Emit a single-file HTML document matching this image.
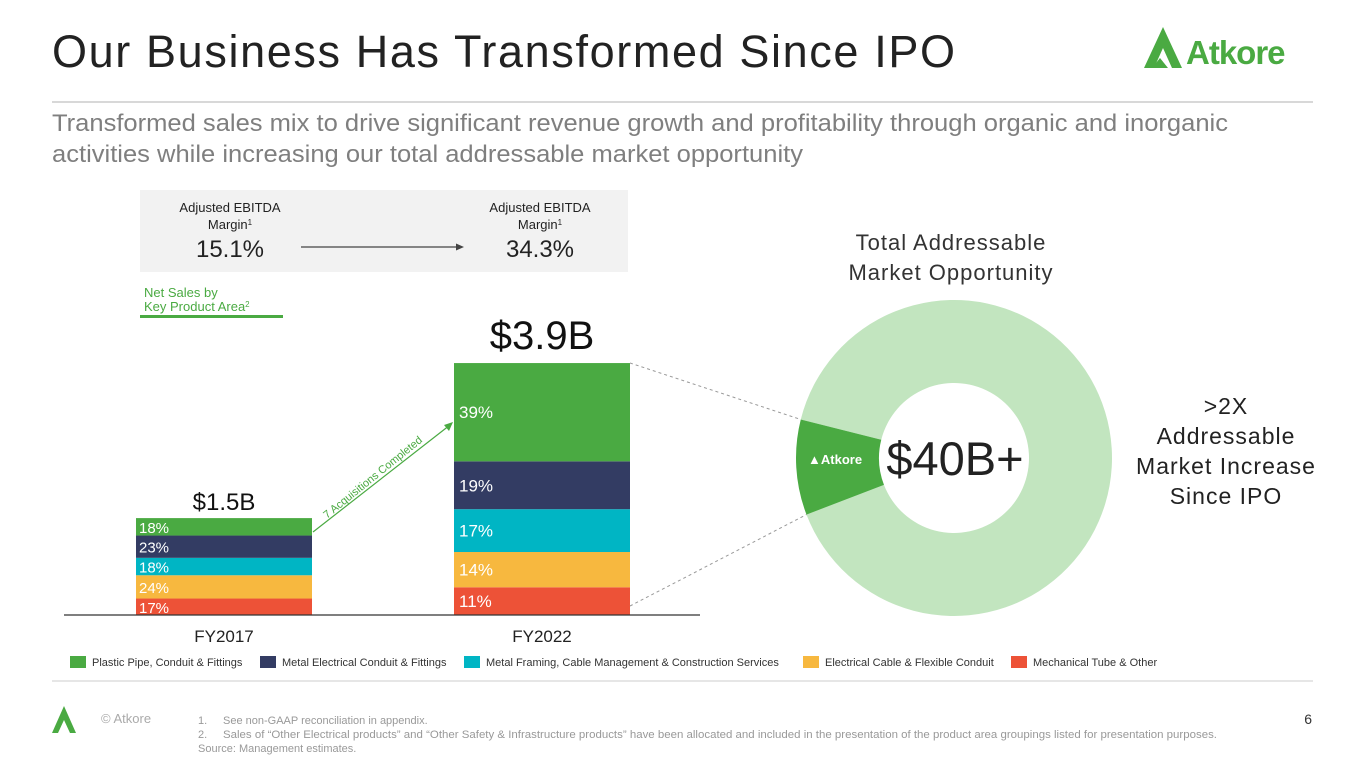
<!DOCTYPE html>
<html><head><meta charset="utf-8">
<style>
html,body{margin:0;padding:0;background:#fff;}
body{width:1365px;height:768px;overflow:hidden;font-family:"Liberation Sans",sans-serif;}
svg text{font-family:"Liberation Sans",sans-serif;}
</style></head>
<body>
<svg id="s" width="1365" height="768" viewBox="0 0 1365 768">
<text x="52" y="67" font-size="45" fill="#222" textLength="903" lengthAdjust="spacing">Our Business Has Transformed Since IPO</text>
<g>
<polygon points="1144,68 1163,27 1182,68 1172,68 1163,48 1154,68" fill="#4aaa42"/>
<polygon points="1152,68 1160,58 1168,68" fill="#4aaa42"/>
<text x="1186" y="64" font-size="33" font-weight="bold" fill="#4aaa42" letter-spacing="-1">Atkore</text>
</g>
<line x1="52" y1="102" x2="1313" y2="102" stroke="#ccc" stroke-width="1.5"/>
<text x="52" y="131" font-size="24" fill="#7f7f7f" textLength="1176" lengthAdjust="spacingAndGlyphs">Transformed sales mix to drive significant revenue growth and profitability through organic and inorganic</text>
<text x="52" y="162" font-size="24" fill="#7f7f7f" textLength="751" lengthAdjust="spacingAndGlyphs">activities while increasing our total addressable market opportunity</text>

<g>
<rect x="140" y="190" width="488" height="82" fill="#f2f2f2"/>
<text x="230" y="212" font-size="13" text-anchor="middle" fill="#222">Adjusted EBITDA</text>
<text x="230" y="229" font-size="13" text-anchor="middle" fill="#222">Margin<tspan font-size="8" dy="-4">1</tspan></text>
<text x="230" y="257" font-size="24" text-anchor="middle" fill="#222">15.1%</text>
<text x="540" y="212" font-size="13" text-anchor="middle" fill="#222">Adjusted EBITDA</text>
<text x="540" y="229" font-size="13" text-anchor="middle" fill="#222">Margin<tspan font-size="8" dy="-4">1</tspan></text>
<text x="540" y="257" font-size="24" text-anchor="middle" fill="#222">34.3%</text>
<line x1="301" y1="247" x2="458" y2="247" stroke="#444" stroke-width="1.3"/>
<polygon points="464,247 456,243.5 456,250.5" fill="#444"/>
</g>
<g>
<text x="144" y="297" font-size="13" fill="#4aaa42">Net Sales by</text>
<text x="144" y="311" font-size="13" fill="#4aaa42">Key Product Area<tspan font-size="8" dy="-4">2</tspan></text>
<rect x="140" y="315" width="143" height="3" fill="#4aaa42"/>
</g>
<g id="bars"></g>
<g id="donut"></g>
<g id="legend"></g>

<line x1="52" y1="681" x2="1313" y2="681" stroke="#ccc" stroke-width="1"/>
<g>
<polygon points="52,733 64,706 76,733 70,733 64,720 58,733" fill="#4aaa42"/>
</g>
<text x="101" y="723" font-size="13" fill="#aaa">© Atkore</text>
<g font-size="11" fill="#999">
<text x="198" y="724">1.</text><text x="223" y="724">See non-GAAP reconciliation in appendix.</text>
<text x="198" y="738">2.</text><text x="223" y="738" textLength="994" lengthAdjust="spacingAndGlyphs">Sales of “Other Electrical products” and “Other Safety &amp; Infrastructure products” have been allocated and included in the presentation of the product area groupings listed for presentation purposes.</text>
<text x="198" y="752">Source: Management estimates.</text>
</g>
<text x="1312" y="724" font-size="14" fill="#333" text-anchor="end">6</text>
</svg>
<script>
const years = ["FY2017","FY2022"];
const totals = [1.5, 3.9];
const totalLabels = ["$1.5B","$3.9B"];
const seriesNames = ["Plastic Pipe, Conduit & Fittings","Metal Electrical Conduit & Fittings","Metal Framing, Cable Management & Construction Services","Electrical Cable & Flexible Conduit","Mechanical Tube & Other"];
const colors = ["#4aaa42","#333c63","#00b5c4","#f7b83f","#ed5237"];
const shares2017 = [18,23,18,24,17];
const shares2022 = [39,19,17,14,11];
const tamTotal = 40;
const atkoreShare = 3.9;

const NS="http://www.w3.org/2000/svg";
function mk(tag,attrs,parent,txt){const e=document.createElementNS(NS,tag);for(const k in attrs)e.setAttribute(k,attrs[k]);if(txt!==undefined)e.textContent=txt;parent.appendChild(e);return e;}
const bars=document.getElementById('bars');
const base=615, pxPerB=64.6;
const y=v=>base-v*pxPerB;
const barX=[136,454], barW=176;
const shares=[shares2017,shares2022];
years.forEach((yr,i)=>{
  const sh=shares[i]; const sum=sh.reduce((a,b)=>a+b,0);
  let cur=0;
  for(let k=sh.length-1;k>=0;k--){
    const v0=totals[i]*cur/sum, v1=totals[i]*(cur+sh[k])/sum;
    const r=mk('rect',{x:barX[i],y:y(v1),width:barW,height:y(v0)-y(v1),fill:colors[k]},bars);
    
    
    const big=i===1;
    const t=mk('text',{x:barX[i]+(big?5:3),y:(y(v0)+y(v1))/2+6,'font-size':big?17:15,fill:'#fff'},bars,sh[k]+'%');
    
    
    cur+=sh[k];
  }
  const tl=mk('text',{x:barX[i]+barW/2,y:y(totals[i])-(i?14:8),'font-size':i?40:24,'text-anchor':'middle',fill:'#111'},bars,totalLabels[i]);
  
  
  const xl=mk('text',{x:barX[i]+barW/2,y:642,'font-size':17,'text-anchor':'middle',fill:'#222'},bars,yr);
  
  
});
const ax=mk('line',{x1:64,y1:base,x2:700,y2:base,stroke:'#333','stroke-width':1.2},bars);


const ag=mk('g',{},bars);


mk('line',{x1:313,y1:532,x2:450,y2:425,stroke:'#4aaa42','stroke-width':1.2},ag);
mk('polygon',{points:'453,422 444,425 449,431',fill:'#4aaa42'},ag);
mk('text',{x:0,y:0,'font-size':11,fill:'#4aaa42',transform:'translate(327,519) rotate(-39)'},ag,'7 Acquisitions Completed');

const d=document.getElementById('donut');
const cx=954,cy=458,R=158,r=75;
function arc(a0,a1){const p=(rr,a)=>[cx+rr*Math.cos(a),cy+rr*Math.sin(a)];const lg=(a1-a0)>Math.PI?1:0;
 const [x0,y0]=p(R,a0),[x1,y1]=p(R,a1),[x2,y2]=p(r,a1),[x3,y3]=p(r,a0);
 return `M${x0},${y0}A${R},${R} 0 ${lg} 1 ${x1},${y1}L${x2},${y2}A${r},${r} 0 ${lg} 0 ${x3},${y3}Z`;}
const frac=atkoreShare/tamTotal, span=frac*2*Math.PI;
const mid=Math.PI-0.06;
const a0=mid-span/2, a1=mid+span/2;
const rest=mk('path',{d:arc(a1,a0+2*Math.PI),fill:'#c2e5bf'},d);


const at=mk('path',{d:arc(a0,a1),fill:'#4aaa42'},d);


const al=mk('text',{x:808,y:464,'font-size':13,'font-weight':'bold',fill:'#fff'},d,'▲Atkore');


const ct=mk('text',{x:955,y:475,'font-size':47,'text-anchor':'middle',fill:'#222'},d,'$40B+');


const tt=mk('g',{'font-size':22,fill:'#333','text-anchor':'middle','letter-spacing':'1'},d);


mk('text',{x:951,y:250},tt,'Total Addressable');
mk('text',{x:951,y:280},tt,'Market Opportunity');
const side=mk('g',{'font-size':23,fill:'#222','text-anchor':'middle','letter-spacing':'1'},d);


['>2X','Addressable','Market Increase','Since IPO'].forEach((s,i)=>mk('text',{x:1226,y:414+i*30},side,s));
const dl=mk('g',{stroke:'#999','stroke-width':1,'stroke-dasharray':'3,3',fill:'none'},d);


mk('line',{x1:630,y1:363,x2:cx+R*Math.cos(a1),y2:cy+R*Math.sin(a1)},dl);
mk('line',{x1:630,y1:606,x2:cx+R*Math.cos(a0),y2:cy+R*Math.sin(a0)},dl);

const lg=document.getElementById('legend');
const lx=[70,260,464,803,1011];
seriesNames.forEach((n,i)=>{
  const g=mk('g',{},lg);
  
  
  mk('rect',{x:lx[i],y:656,width:16,height:12,fill:colors[i]},g);
  mk('text',{x:lx[i]+22,y:666,'font-size':11,fill:'#333'},g,n);
});
</script>
</body></html>
